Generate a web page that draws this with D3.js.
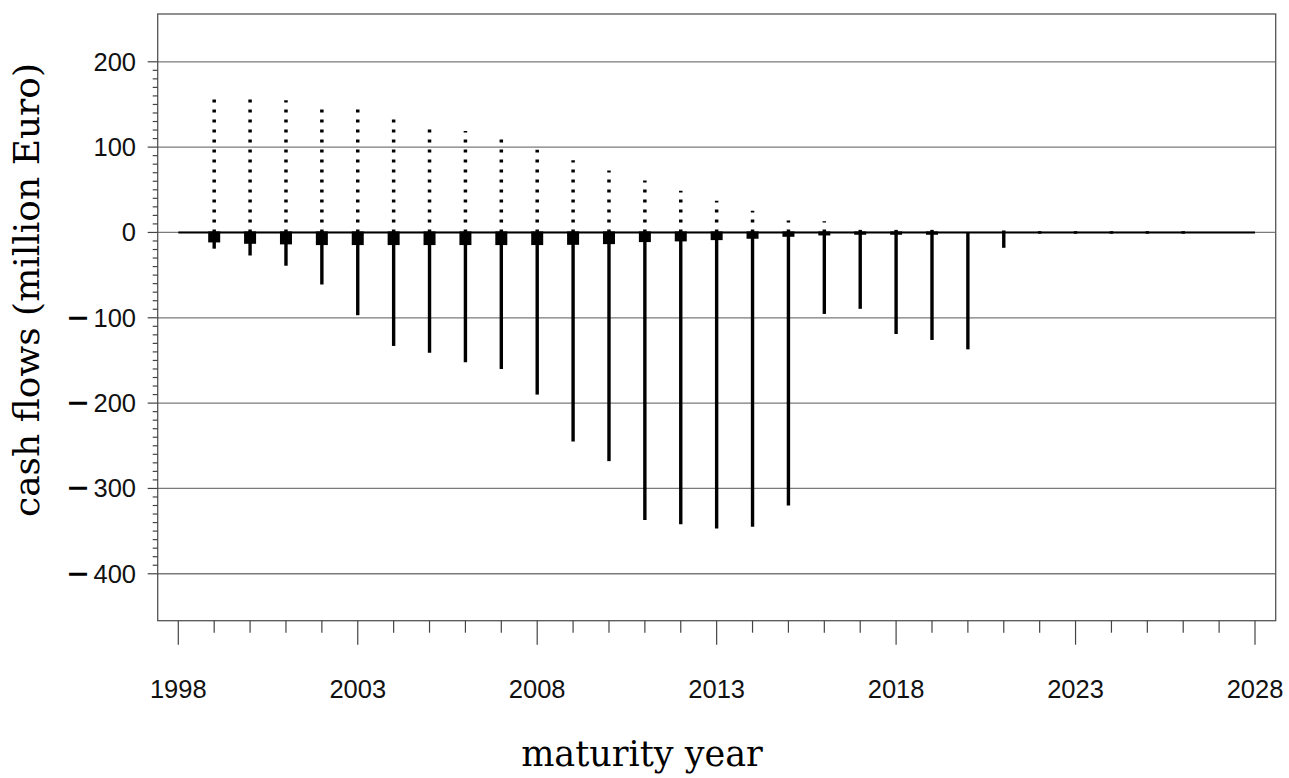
<!DOCTYPE html>
<html>
<head>
<meta charset="utf-8">
<script src="https://cdn.jsdelivr.net/npm/d3@7"></script>
<style>
  html, body { margin: 0; padding: 0; background: #fff; }
  svg { display: block; }
</style>
</head>
<body>
<svg id="chart" width="1289" height="778"></svg>
<script>
// ---- data ----
const years = [1999,2000,2001,2002,2003,2004,2005,2006,2007,2008,2009,2010,2011,2012,2013,2014,2015,2016,2017,2018,2019,2020,2021,2022,2023,2024,2025,2026];
// dotted positive flows
const inflows = [156,156,155,144,144,133,122,119,109,97,84.5,72.5,61,49,37,25.5,14,13,3,3,3,0,2.3,1.5,1.5,1.5,1.5,1.5];
// thick short negative flows (squares)
const coupons = [-11.7,-13.3,-14,-14.8,-14.8,-14.8,-14.8,-14.8,-14.8,-14.8,-14.5,-13.7,-11.3,-10.5,-9,-7.4,-5.1,-3.5,-2.7,-2.7,-2.7,0,0,0,0,0,0,0];
// thin negative flows
const outflows = [-19,-27,-39,-61,-97,-133,-141,-152,-160,-190,-245,-268,-337,-342,-347,-345,-320,-95.5,-89.5,-119,-126,-137,-18,-1.5,-1.5,-1.5,-1.5,-1.5];
const yMajorTicks = [-400,-300,-200,-100,0,100,200];
const xMajorTicks = [1998,2003,2008,2013,2018,2023,2028];
const xTitle = "maturity year";
const yTitle = "cash flows (million Euro)";

// ---- layout ----
const box = {left: 157.7, right: 1275.7, top: 14, bottom: 620.7};
const svg = d3.select("#chart");

const x = d3.scaleLinear().domain([1998, 2028]).range([178.3, 1255]);
const y = d3.scaleLinear().domain([-455, 256]).range([box.bottom, box.top]);

// gridlines
svg.append("g").selectAll("line").data(yMajorTicks).join("line")
  .attr("x1", box.left).attr("x2", box.right)
  .attr("y1", d => y(d)).attr("y2", d => y(d))
  .attr("stroke", "#7a7a7a").attr("stroke-width", 1.3);

// zero line
svg.append("line")
  .attr("x1", x(1998)).attr("x2", x(2028))
  .attr("y1", y(0)).attr("y2", y(0))
  .attr("stroke", "#000").attr("stroke-width", 2);

// dotted positive lines
svg.append("g").selectAll("line").data(years.map((yr, i) => ({yr, v: inflows[i]})).filter(d => d.v > 0)).join("line")
  .attr("x1", d => x(d.yr)).attr("x2", d => x(d.yr))
  .attr("y1", y(0)).attr("y2", d => y(d.v))
  .attr("stroke", "#000").attr("stroke-width", 3.5)
  .attr("stroke-dasharray", "3 7");

// thin negative lines
svg.append("g").selectAll("line").data(years.map((yr, i) => ({yr, v: outflows[i]}))).join("line")
  .attr("x1", d => x(d.yr)).attr("x2", d => x(d.yr))
  .attr("y1", y(0)).attr("y2", d => y(d.v))
  .attr("stroke", "#000").attr("stroke-width", 3.4);

// squares
svg.append("g").selectAll("rect").data(years.map((yr, i) => ({yr, v: coupons[i]})).filter(d => d.v < 0)).join("rect")
  .attr("x", d => x(d.yr) - 6).attr("width", 12)
  .attr("y", y(0) - 1).attr("height", d => y(d.v) - y(0) + 1)
  .attr("fill", "#000");

// box
svg.append("rect")
  .attr("x", box.left).attr("y", box.top)
  .attr("width", box.right - box.left).attr("height", box.bottom - box.top)
  .attr("fill", "none").attr("stroke", "#555").attr("stroke-width", 1.3);

// y axis ticks
const yMinor = d3.range(-400, 201, 10);
svg.append("g").selectAll("line").data(yMinor).join("line")
  .attr("x1", d => box.left - (d % 100 === 0 ? 10 : 5)).attr("x2", box.left)
  .attr("y1", d => y(d)).attr("y2", d => y(d))
  .attr("stroke", "#444").attr("stroke-width", 1.2);

const yLab = svg.append("g").selectAll("text").data(yMajorTicks).join("text")
  .attr("x", 136).attr("y", d => y(d) + 8.8)
  .attr("text-anchor", "end")
  .attr("font-family", "'Liberation Sans', Arial, sans-serif")
  .attr("font-size", 25.5).attr("fill", "#111");
yLab.each(function(d) {
  const t = d3.select(this);
  if (d < 0) {
    t.append("tspan").attr("font-size", 16.5).attr("font-weight", "bold").attr("fill", "#000")
      .attr("stroke", "#000").attr("stroke-width", 1.4)
      .attr("dy", -3.8).text("\u2014");
    t.append("tspan").attr("dy", 3.8).text(" " + Math.abs(d));
  } else {
    t.text(d);
  }
});

// x axis ticks
const xMinor = d3.range(1998, 2029, 1);
svg.append("g").selectAll("line").data(xMinor).join("line")
  .attr("x1", d => x(d)).attr("x2", d => x(d))
  .attr("y1", box.bottom).attr("y2", d => box.bottom + ((d - 1998) % 5 === 0 ? 24 : 12))
  .attr("stroke", "#444").attr("stroke-width", 1.2);

svg.append("g").selectAll("text").data(xMajorTicks).join("text")
  .attr("x", d => x(d)).attr("y", 698)
  .attr("text-anchor", "middle")
  .attr("font-family", "'Liberation Sans', Arial, sans-serif")
  .attr("font-size", 25.5).attr("fill", "#111")
  .text(d => d);

// titles
svg.append("text")
  .attr("x", 642).attr("y", 766)
  .attr("text-anchor", "middle")
  .attr("font-family", "'DejaVu Serif', serif")
  .attr("font-size", 35).attr("fill", "#000")
  .text(xTitle);

svg.append("text")
  .attr("transform", "translate(39,290) rotate(-90)")
  .attr("text-anchor", "middle")
  .attr("font-family", "'DejaVu Serif', serif")
  .attr("font-size", 36).attr("fill", "#000")
  .text(yTitle);
</script>
</body>
</html>
